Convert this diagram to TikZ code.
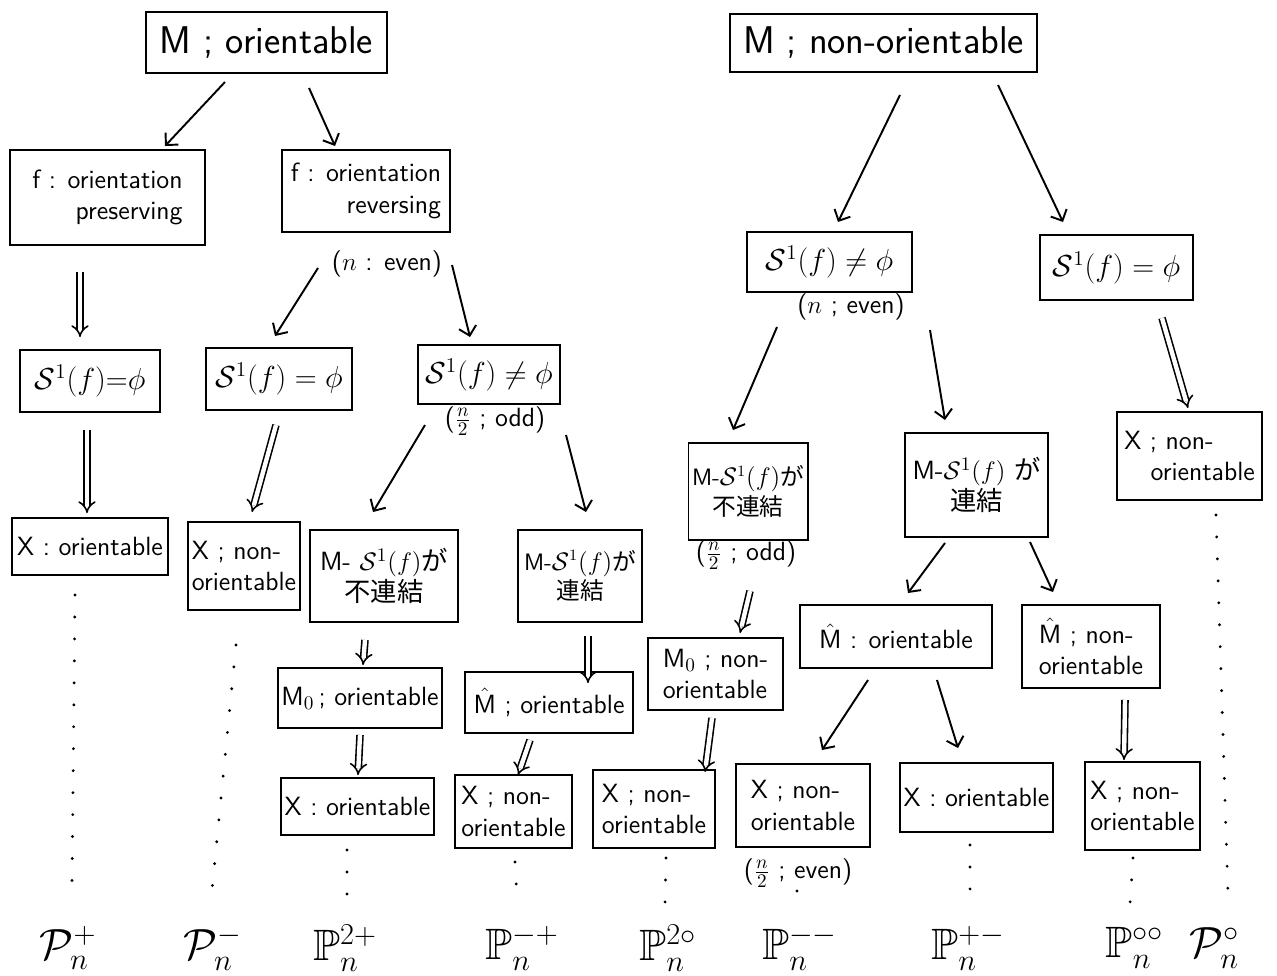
\documentclass[tikz,border=0pt]{standalone}
\usepackage{amsmath,amssymb}
\usepackage{fontspec}
\newfontfamily\jp{Noto Sans CJK JP}
\usetikzlibrary{arrows.meta,calc}
\tikzset{
  box/.style={draw, line width=1.1pt, inner sep=2pt, outer sep=0pt, align=center, font=\sffamily\fontsize{15}{18}\selectfont},
  mbox/.style={box, font=\sffamily\fontsize{18}{21}\selectfont},
  nbox/.style={box, font=\sffamily\fontsize{13.5}{17}\selectfont},
  bigbox/.style={box, font=\sffamily\fontsize{22}{26}\selectfont},
  sz/.style 2 args={minimum width=#1*0.02cm, minimum height=#2*0.02cm},
  lbl/.style={inner sep=1pt, outer sep=0pt, font=\sffamily\fontsize{15}{18}\selectfont},
  arr/.style={line width=1.1pt, -{Straight Barb[length=5pt,width=10pt]}},
  dbl/.style={double, double distance=2.5pt, line width=0.9pt, -{Implies[scale=1.5]}},
  dotline/.style={line width=1.8pt, line cap=round, dash pattern=on 0pt off 12.5pt},
  bot/.style={inner sep=0pt, font=\fontsize{25}{29}\selectfont}
}
\newcommand{\Sf}{\mathcal{S}^1(f)}
\newcommand{\Mh}{$\hat{\text{M}}$}
\begin{document}
\begin{tikzpicture}[x=0.02cm, y=-0.02cm]
\useasboundingbox (0,0) rectangle (1277,976);
% row 1
\node[bigbox, sz={241}{61}] (A) at (266.5,42.5) {M ; orientable};
\node[bigbox, sz={307}{58}] (B) at (883.5,43) {M ; non-orientable};
% row 2
\node[box, sz={195}{95}, align=right] (C) at (107.5,197.5) {f : orientation\\preserving};
\node[box, sz={168}{82}, align=right] (D) at (366,191) {f : orientation\\reversing};
\node[lbl] (lD) at (387,264) {($n$ : even)};
\node[mbox, sz={165}{60}] (E) at (829.5,262) {$\Sf\neq\phi$};
\node[lbl] (lE) at (851,307) {($n$ ; even)};
\node[mbox, sz={153}{65}] (F) at (1116.5,267.5) {$\Sf=\phi$};
% row 3
\node[mbox, sz={140}{62}] (G) at (90,381) {$\Sf{=}\phi$};
\node[mbox, sz={146}{62}] (H) at (279,379) {$\Sf=\phi$};
\node[mbox, sz={142}{59}] (I) at (489,374.5) {$\Sf\neq\phi$};
\node[lbl] (lI) at (495,421) {($\frac{n}{2}$ ; odd)};
% row 4
\node[box, sz={156}{57}] (J) at (90,546.5) {X : orientable};
\node[box, sz={112}{88}, align=left] (K) at (244,566) {X ; non-\\orientable};
\node[box, sz={148}{92}] (L) at (384,576) {M- $\Sf${\jp が}\\{\jp 不連結}};
\node[nbox, sz={124}{92}] (M) at (580,576) {M-$\Sf${\jp が}\\{\jp 連結}};
\node[nbox, sz={110}{97}] (N) at (748,491.5) {M-$\Sf${\jp が}\\{\jp 不連結}};
\node[lbl] (lN) at (746,555) {($\frac{n}{2}$ ; odd)};
\node[box, sz={143}{104}] (O) at (976.5,485) {M-$\Sf$ {\jp が}\\{\jp 連結}};
\node[box, sz={145}{88}, align=left] (P) at (1189.5,456) {X ; non-\\\hspace*{1em}orientable};
% row 5
\node[box, sz={156}{60}] (Q) at (360,698) {M$_0$\,; orientable};
\node[box, sz={168}{61}] (R) at (549,702.5) {\Mh{} ; orientable};
\node[box, sz={135}{72}, align=left] (S) at (715.5,674) {M$_0$ ; non-\\orientable};
\node[box, sz={192}{63}] (T) at (896,636.5) {\Mh{} : orientable};
\node[box, sz={138}{83}, align=left] (U) at (1091,646.5) {\Mh{} ; non-\\orientable};
% row 6
\node[box, sz={151}{57}] (V) at (357.5,806.5) {X : orientable};
\node[box, sz={117}{73}, align=left] (W) at (513.5,811.5) {X ; non-\\orientable};
\node[box, sz={122}{78}, align=left] (Y) at (654,809) {X ; non-\\orientable};
\node[box, sz={134}{83}, align=left] (Z) at (803,805.5) {X ; non-\\orientable};
\node[lbl] (lZ) at (798,873) {($\frac{n}{2}$ ; even)};
\node[box, sz={147}{69}] (AA) at (976.5,797.5) {X : orientable};
\node[box, sz={115}{88}, align=left] (AB) at (1142.5,806) {X ; non-\\orientable};
% bottom labels
\node[bot] (b1) at (68,948) {$\mathcal{P}_n^{+}$};
\node[bot] (b2) at (213,948) {$\mathcal{P}_n^{-}$};
\node[bot] (b3) at (345,948) {$\mathbb{P}_n^{2+}$};
\node[bot] (b4) at (522,948) {$\mathbb{P}_n^{-+}$};
\node[bot] (b5) at (668,948) {$\mathbb{P}_n^{2\circ}$};
\node[bot] (b6) at (800,948) {$\mathbb{P}_n^{--}$};
\node[bot] (b7) at (968,948) {$\mathbb{P}_n^{+-}$};
\node[bot] (b8) at (1135,948) {$\mathbb{P}_n^{\circ\circ}$};
\node[bot] (b9) at (1215,948) {$\mathcal{P}_n^{\circ}$};
% single arrows
\draw[arr] ($(A.south)+(-41.5,9)$) -- ($(C.north)+(57.5,-4)$);
\draw[arr] ($(A.south)+(42.5,15)$) -- ($(D.north)+(-31,-4)$);
\draw[arr] ($(D.south)+(-48,36)$) -- ($(H.north)+(-4,-12)$);
\draw[arr] ($(D.south)+(86,33)$) -- ($(I.north)+(-19,-8)$);
\draw[arr] ($(I.south)+(-64,21)$) -- ($(L.north)+(-11,-18)$);
\draw[arr] ($(I.south)+(77,31)$) -- ($(M.north)+(6,-18)$);
\draw[arr] ($(B.south)+(16.5,23)$) -- ($(E.north)+(8.5,-10)$);
\draw[arr] ($(B.south)+(114.5,13)$) -- ($(F.north)+(-53.5,-13)$);
\draw[arr] ($(E.south)+(-52.5,35)$) -- ($(N.north)+(-15,-13)$);
\draw[arr] ($(E.south)+(100.5,38)$) -- ($(O.north)+(-31.5,-13)$);
\draw[arr] ($(O.south)+(-31.5,6)$) -- ($(T.north)+(12,-12)$);
\draw[arr] ($(O.south)+(53.5,5)$) -- ($(U.north)+(-38,-13)$);
\draw[arr] ($(T.south)+(-28,12)$) -- ($(Z.north)+(19,-14)$);
\draw[arr] ($(T.south)+(41,12)$) -- ($(AA.north)+(-18.5,-15)$);
% double arrows
\draw[dbl] ($(C.south)+(-27.5,27)$) -- ($(G.north)+(-10,-13)$);
\draw[dbl] ($(G.south)+(-3,18)$) -- ($(J.north)+(-3,-5)$);
\draw[dbl] ($(H.south)+(-3,15)$) -- ($(K.north)+(8,-10)$);
\draw[dbl] ($(L.south)+(-19,18)$) -- ($(Q.north)+(3,-3)$);
\draw[dbl] ($(M.south)+(8,14)$) -- ($(R.north)+(39,11)$);
\draw[dbl] ($(Q.south)+(0,7)$) -- ($(V.north)+(0.5,-3)$);
\draw[dbl] ($(R.south)+(-19,7)$) -- ($(W.north)+(4.5,0)$);
\draw[dbl] ($(F.south)+(45.5,18)$) -- ($(P.north)+(-1.5,-4)$);
\draw[dbl] ($(lN.south)+(4,20)$) -- ($(S.north)+(24.5,-5)$);
\draw[dbl] ($(S.south)+(-3.5,8)$) -- ($(Y.north)+(51,2)$);
\draw[dbl] ($(U.south)+(34,12)$) -- ($(AB.north)+(-18.5,-2)$);
% dotted lines
\draw[dotline] ($(J.south)+(-15,20)$) -- ($(b1)+(4,-63)$);
\draw[dotline] ($(K.south)+(-8,35)$) -- ($(b2)+(-1,-58)$);
\draw[dotline] ($(V.south)+(-10.5,15)$) -- ($(b3)+(2,-43)$);
\draw[dotline] ($(W.south)+(1.5,14)$) -- ($(b4)+(-5,-50)$);
\draw[dotline] ($(Y.south)+(12,10)$) -- ($(b5)+(-3,-43)$);
\draw[dotline] ($(lZ.south)+(-1,2)$) -- ($(b6)+(-2,-36)$);
\draw[dotline] ($(AA.south)+(-6.5,13)$) -- ($(b7)+(2,-55)$);
\draw[dotline] ($(AB.south)+(-9.5,8)$) -- ($(b8)+(-5,-43)$);
\draw[dotline] ($(P.south)+(26.5,15)$) -- ($(b9)+(13,-53)$);
\end{tikzpicture}
\end{document}
